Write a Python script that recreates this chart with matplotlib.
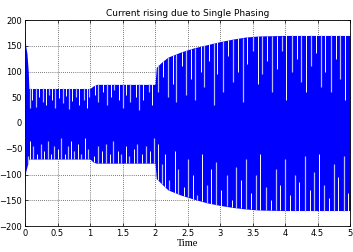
import numpy as np
import matplotlib.pyplot as plt

# envelope of the phase current
t_env = [0.0, 0.01, 0.03, 0.05, 0.06, 1.0, 1.05, 1.1, 2.0, 2.02, 2.1, 2.2, 2.4, 2.6, 2.8, 3.0, 3.2, 3.4, 3.6, 4.0, 5.0]
upper = [175, 150, 135, 100, 67, 67, 72, 75, 75, 108, 118, 128, 138, 146, 152, 158, 163, 167, 169, 170, 170]
lower = [-120, -95, -85, -75, -70, -70, -76, -78, -78, -108, -118, -130, -140, -148, -155, -160, -164, -167, -169, -170, -170]

# light aliasing streaks from the top edge (time, lowest value reached)
top_t = [0.08, 0.11, 0.17, 0.22, 0.27, 0.33, 0.37, 0.42, 0.46, 0.52, 0.58, 0.63, 0.68, 0.72, 0.79, 0.83, 0.9, 0.95, 0.99,
         1.08, 1.13, 1.2, 1.26, 1.33, 1.37, 1.45, 1.5, 1.56, 1.62, 1.7, 1.76, 1.82, 1.9, 1.96,
         2.05, 2.12, 2.2, 2.27, 2.33, 2.42, 2.48, 2.55, 2.62, 2.7, 2.76, 2.83, 2.9, 2.96, 3.05, 3.12, 3.2, 3.27,
         3.35, 3.42, 3.5, 3.58, 3.65, 3.72, 3.8, 3.88, 3.95, 4.02, 4.1, 4.18, 4.25, 4.32, 4.4, 4.48, 4.55, 4.62, 4.7, 4.78, 4.85, 4.93]
top_v = [30, 45, 32, 50, 40, 35, 55, 45, 30, 48, 38, 52, 28, 42, 50, 35, 45, 30, 50,
         55, 40, 60, 35, 50, 65, 45, 30, 55, 40, 50, 25, 45, 60, 35,
         60, 90, 50, 75, 40, 110, 55, 85, 45, 100, 70, 120, 35, 95, 60, 130, 80, 100,
         40, 115, 140, 75, 95, 120, 60, 105, 140, 45, 100, 125, 80, 60, 110, 135, 70, 100, 60, 125, 85, 45]

# streaks from the bottom edge (time, highest value reached)
bot_t = [0.04, 0.07, 0.13, 0.18, 0.24, 0.29, 0.35, 0.4, 0.45, 0.5, 0.56, 0.61, 0.66, 0.71, 0.76, 0.82, 0.86, 0.92, 0.97,
         1.06, 1.12, 1.18, 1.24, 1.31, 1.36, 1.43, 1.48, 1.55, 1.6, 1.67, 1.73, 1.8, 1.86, 1.93, 1.98,
         2.04, 2.1, 2.16, 2.22, 2.3, 2.36, 2.44, 2.5, 2.58, 2.64, 2.72, 2.8, 2.86, 2.94, 3.02, 3.1, 3.18, 3.25,
         3.32, 3.4, 3.47, 3.55, 3.62, 3.7, 3.78, 3.86, 3.92, 4.0, 4.08, 4.15, 4.22, 4.3, 4.38, 4.45, 4.52, 4.6, 4.68, 4.75, 4.82, 4.9, 4.97]
bot_v = [-65, -35, -45, -60, -40, -55, -35, -60, -45, -50, -30, -60, -45, -35, -55, -40, -60, -30, -50,
         -65, -45, -55, -40, -60, -35, -55, -60, -45, -65, -50, -40, -60, -45, -55, -30,
         -40, -80, -60, -110, -55, -90, -125, -70, -100, -140, -60, -120, -90, -75, -130, -100, -150, -85,
         -110, -70, -135, -100, -60, -125, -150, -90, -120, -70, -140, -100, -115, -65, -130, -95, -60, -120, -145, -80, -105, -65, -135]

fig = plt.figure(figsize=(3.53, 2.52), dpi=100)
ax = fig.add_axes([25 / 353, 1 - 226 / 252, 325 / 353, 206 / 252])

ax.fill_between(t_env, lower, upper, color='#0000ff', lw=0, zorder=2)
ax.vlines(top_t[::2], top_v[::2], np.interp(top_t[::2], t_env, upper), color='#b8bcff', lw=0.9, zorder=3)
ax.vlines(top_t[1::2], top_v[1::2], np.interp(top_t[1::2], t_env, upper), color='white', lw=0.7, zorder=3)
ax.vlines(bot_t[::2], np.interp(bot_t[::2], t_env, lower), bot_v[::2], color='#b8bcff', lw=0.9, zorder=3)
ax.vlines(bot_t[1::2], np.interp(bot_t[1::2], t_env, lower), bot_v[1::2], color='white', lw=0.7, zorder=3)

ax.set_xlim(0, 5)
ax.set_ylim(-200, 200)
ax.set_xticks(np.arange(0, 5.01, 0.5))
ax.set_xticklabels(['0', '0.5', '1', '1.5', '2', '2.5', '3', '3.5', '4', '4.5', '5'])
ax.set_yticks(np.arange(-200, 201, 50))
ax.tick_params(direction='in', labelsize=6, length=2.5, width=0.5, pad=2, top=True, right=True)
ax.grid(True, linestyle=(0, (1, 2)), color='black', lw=0.5, zorder=0)
ax.set_axisbelow(True)
for s in ax.spines.values():
    s.set_linewidth(0.6)

ax.set_title('Current rising due to Single Phasing', fontsize=6.5, pad=3)
ax.set_xlabel('Time', fontsize=7.5, family='Liberation Serif', labelpad=1)

plt.savefig('out.png', dpi=100)
